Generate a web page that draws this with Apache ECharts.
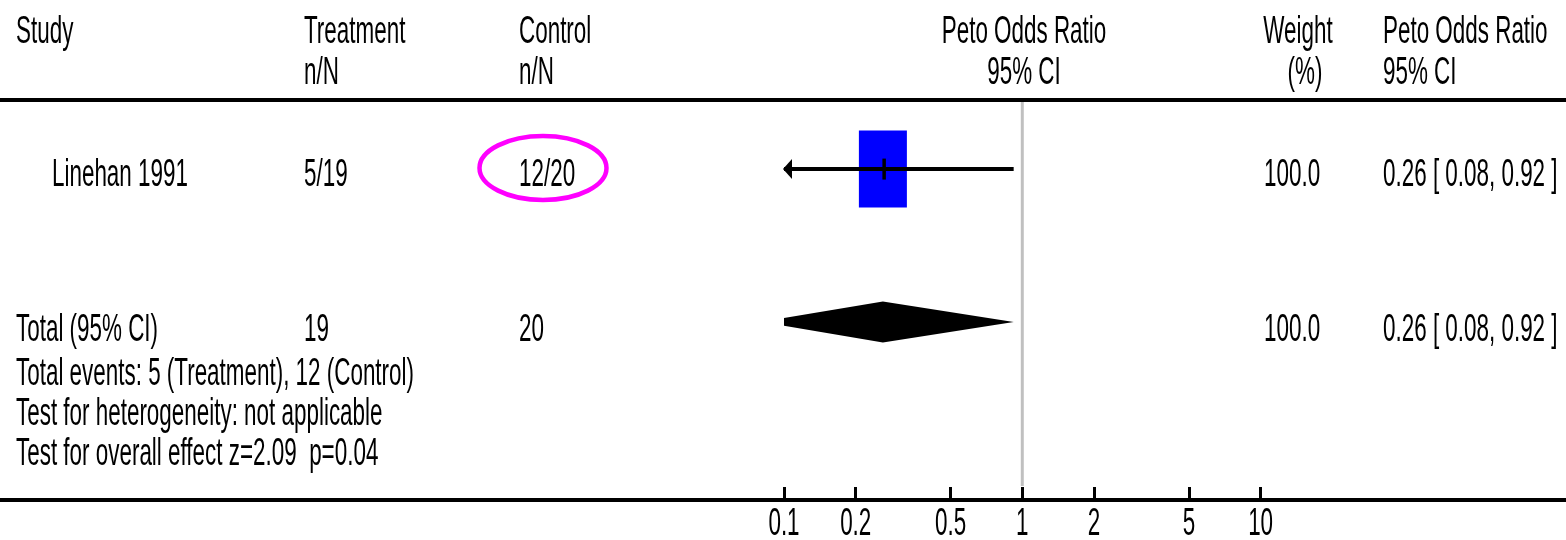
<!DOCTYPE html>
<html><head><meta charset="utf-8">
<script src="https://cdn.jsdelivr.net/npm/echarts@6/dist/echarts.min.js"></script>
<style>html,body{margin:0;padding:0;background:#fff}#chart{width:1566px;height:540px}</style>
</head><body><div id="chart"></div>
<script>
// ---------------- data ----------------
const headerTop = ['Study', 'Treatment', 'Control', 'Peto Odds Ratio', 'Weight', 'Peto Odds Ratio'];
const headerSub = ['', 'n/N', 'n/N', '95% CI', '(%)', '95% CI'];
const studies = ['Linehan 1991'];
const treatmentNN = ['5/19'];
const controlNN = ['12/20'];
const studyOR = [0.26];
const studyLow = [0.08];
const studyHigh = [0.92];
const studyWeight = [100.0];
const totalLabel = 'Total (95% CI)';
const totalTreatment = [19];
const totalControl = [20];
const totalOR = [0.26];
const totalLow = [0.08];
const totalHigh = [0.92];
const totalWeight = [100.0];
const footnotes = ['Total events: 5 (Treatment), 12 (Control)', 'Test for heterogeneity: not applicable', 'Test for overall effect z=2.09  p=0.04'];
const tickValues = [0.1, 0.2, 0.5, 1, 2, 5, 10];
const tickLabels = ['0.1', '0.2', '0.5', '1', '2', '5', '10'];

// ---------------- layout / style ----------------
const FONT = '"Liberation Sans", Arial, sans-serif';
const FS = 39, SX = 0.575;
const L = {
  gridLeft: 784, gridWidth: 476.6, gridTop: 102, gridBottom: 41, yMax: 10,
  studyRow: [1.69], totalRow: 5.54,
  col: { study: 16, studyIndent: 52, treat: 304, ctrl: 519, orHead: 1024, weight: 1298, weightSub: 1305, wText: 1264, orText: 1383 },
  headY: [32, 73.5], studyTextY: [175], totalTextY: 330.5, footY: [374, 414, 454],
  boxHalfW: 24, boxHalfH: 38.5, diamondHalfH: 20.5, tickLabelOffset: 25
};

function fmtCI(o, l, h) { return o.toFixed(2) + ' [ ' + l.toFixed(2) + ', ' + h.toFixed(2) + ' ]'; }
function txt(s, x, y, align) {
  align = align || 'left';
  return { type: 'text', x: x, y: y, scaleX: SX, silent: true,
    style: { text: s, fontSize: FS, fontFamily: FONT, fill: '#000', align: align, verticalAlign: 'middle', textAlign: align, textVerticalAlign: 'middle' } };
}

const g = [];
// rules
g.push({ type: 'rect', shape: { x: 0, y: 98, width: 1566, height: 4 }, style: { fill: '#000' } });
g.push({ type: 'rect', shape: { x: 0, y: 498, width: 1566, height: 4 }, style: { fill: '#000' } });
// header
g.push(txt(headerTop[0], L.col.study, L.headY[0]));
g.push(txt(headerTop[1], L.col.treat, L.headY[0]));
g.push(txt(headerSub[1], L.col.treat, L.headY[1]));
g.push(txt(headerTop[2], L.col.ctrl, L.headY[0]));
g.push(txt(headerSub[2], L.col.ctrl, L.headY[1]));
g.push(txt(headerTop[3], L.col.orHead, L.headY[0], 'center'));
g.push(txt(headerSub[3], L.col.orHead, L.headY[1], 'center'));
g.push(txt(headerTop[4], L.col.weight, L.headY[0], 'center'));
g.push(txt(headerSub[4], L.col.weightSub, L.headY[1], 'center'));
g.push(txt(headerTop[5], L.col.orText, L.headY[0]));
g.push(txt(headerSub[5], L.col.orText, L.headY[1]));
// study rows
studies.forEach(function (s, i) {
  const y = L.studyTextY[i];
  g.push(txt(s, L.col.studyIndent, y));
  g.push(txt(treatmentNN[i], L.col.treat, y));
  g.push(txt(controlNN[i], L.col.ctrl, y));
  g.push(txt(studyWeight[i].toFixed(1), L.col.wText, y));
  g.push(txt(fmtCI(studyOR[i], studyLow[i], studyHigh[i]), L.col.orText, y));
});
// highlight ellipse around the control count
g.push({ type: 'ellipse', shape: { cx: 543, cy: 168, rx: 63.5, ry: 32 }, style: { fill: 'none', stroke: '#ff00ff', lineWidth: 4.5 } });
// total row
g.push(txt(totalLabel, L.col.study, L.totalTextY));
g.push(txt(String(totalTreatment[0]), L.col.treat, L.totalTextY));
g.push(txt(String(totalControl[0]), L.col.ctrl, L.totalTextY));
g.push(txt(totalWeight[0].toFixed(1), L.col.wText, L.totalTextY));
g.push(txt(fmtCI(totalOR[0], totalLow[0], totalHigh[0]), L.col.orText, L.totalTextY));
footnotes.forEach(function (f, i) { g.push(txt(f, L.col.study, L.footY[i])); });

const XMIN = -1, XMAX = 1;

const chart = echarts.init(document.getElementById('chart'));
chart.setOption({
  animation: false,
  backgroundColor: '#fff',
  grid: { left: L.gridLeft, width: L.gridWidth, top: L.gridTop, bottom: L.gridBottom, containLabel: false },
  xAxis: {
    type: 'value', min: XMIN, max: XMAX, position: 'bottom',
    axisLine: { show: false, onZero: false },
    axisTick: { show: true, inside: true, length: 12, lineStyle: { color: '#000', width: 3 }, customValues: tickValues.map(Math.log10) },
    axisLabel: { show: false },
    splitLine: { show: false }
  },
  yAxis: { type: 'value', min: 0, max: L.yMax, inverse: true, show: false, splitLine: { show: false } },
  graphic: { elements: g },
  series: [
    { // reference line at OR = 1
      type: 'custom', silent: true, z: 1,
      data: [[0]],
      renderItem: function (params, api) {
        const a = api.coord([api.value(0), 0]);
        const b = api.coord([api.value(0), L.yMax]);
        return { type: 'line', shape: { x1: a[0], y1: a[1], x2: b[0], y2: b[1] - 13 }, style: { stroke: '#c0c0c0', lineWidth: 3 } };
      }
    },
    { // individual studies
      type: 'custom', silent: true, z: 3,
      data: studies.map(function (s, i) { return [Math.log10(studyOR[i]), Math.log10(studyLow[i]), Math.log10(studyHigh[i]), L.studyRow[i], studyWeight[i]]; }),
      renderItem: function (params, api) {
        const row = api.value(3);
        const c = api.coord([api.value(0), row]);
        const lowRaw = api.value(1), hiRaw = api.value(2);
        const pl = api.coord([Math.max(lowRaw, XMIN), row]);
        const ph = api.coord([Math.min(hiRaw, XMAX), row]);
        const k = Math.sqrt(api.value(4) / 100);
        const ch = [
          { type: 'rect', shape: { x: c[0] - L.boxHalfW * k, y: c[1] - L.boxHalfH * k, width: 2 * L.boxHalfW * k, height: 2 * L.boxHalfH * k }, style: { fill: '#0000ff' } },
          { type: 'line', shape: { x1: pl[0], y1: pl[1], x2: ph[0], y2: ph[1] }, style: { stroke: '#000', lineWidth: 4 } },
          { type: 'rect', shape: { x: c[0] - 0.5, y: c[1] - 10.5, width: 3.5, height: 21 }, style: { fill: '#000' } }
        ];
        if (lowRaw < XMIN) ch.push({ type: 'polygon', shape: { points: [[pl[0] - 1, pl[1]], [pl[0] + 8, pl[1] - 10], [pl[0] + 8, pl[1] + 10]] }, style: { fill: '#000' } });
        if (hiRaw > XMAX) ch.push({ type: 'polygon', shape: { points: [[ph[0] + 1, ph[1]], [ph[0] - 8, ph[1] - 10], [ph[0] - 8, ph[1] + 10]] }, style: { fill: '#000' } });
        return { type: 'group', children: ch };
      }
    },
    { // pooled diamond
      type: 'custom', silent: true, z: 3,
      data: [[Math.log10(totalOR[0]), Math.log10(totalLow[0]), Math.log10(totalHigh[0]), L.totalRow]],
      renderItem: function (params, api) {
        const row = api.value(3);
        const c = api.coord([api.value(0), row]);
        const l = api.coord([api.value(1), row]);
        const r = api.coord([api.value(2), row]);
        const x0 = api.coord([XMIN, row])[0], x1 = api.coord([XMAX, row])[0];
        const h = L.diamondHalfH, y = c[1];
        const pts = [];
        if (l[0] < x0) { const hh = h * (x0 - l[0]) / (c[0] - l[0]); pts.push([x0, y + hh], [x0, y - hh]); } else pts.push([l[0], y]);
        pts.push([c[0], y - h]);
        if (r[0] > x1) { const hh = h * (r[0] - x1) / (r[0] - c[0]); pts.push([x1, y - hh], [x1, y + hh]); } else pts.push([r[0], y]);
        pts.push([c[0], y + h]);
        return { type: 'polygon', shape: { points: pts }, style: { fill: '#000' } };
      }
    },
    { // tick labels (condensed type, placed through the x scale)
      type: 'custom', silent: true, z: 3, clip: false,
      data: tickValues.map(function (v, i) { return [Math.log10(v), i]; }),
      renderItem: function (params, api) {
        const p = api.coord([api.value(0), L.yMax]);
        return { type: 'text', x: p[0], y: p[1] + L.tickLabelOffset, scaleX: SX,
          style: { text: tickLabels[api.value(1)], fontSize: FS, fontFamily: FONT, fill: '#000', align: 'center', verticalAlign: 'middle', textAlign: 'center', textVerticalAlign: 'middle' } };
      }
    }
  ]
});
</script>
</body></html>
